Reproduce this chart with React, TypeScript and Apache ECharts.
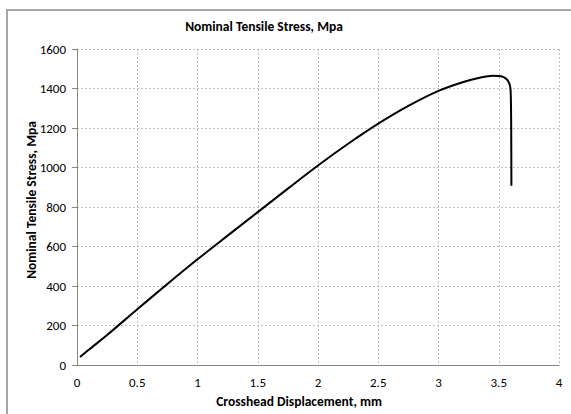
import React, { useEffect, useRef } from "react";
import * as echarts from "echarts";

const displacement = [0.025, 0.1, 0.25, 0.5, 0.75, 1.0, 1.25, 1.5, 1.75, 2.0, 2.25, 2.5, 2.75, 3.0, 3.2, 3.35, 3.45, 3.52, 3.56, 3.585, 3.597, 3.602, 3.604, 3.605];
const stress = [40, 78, 152, 282, 410, 535, 655, 774, 893, 1010, 1120, 1222, 1312, 1388, 1432, 1456, 1465, 1462, 1450, 1430, 1400, 1300, 1100, 908];
const xTicks = [0, 0.5, 1, 1.5, 2, 2.5, 3, 3.5, 4];
const yTicks = [0, 200, 400, 600, 800, 1000, 1200, 1400, 1600];

const titleText = "Nominal Tensile Stress, Mpa";
const xName = "Crosshead Displacement, mm";
const yName = "Nominal Tensile Stress, Mpa";

const FONT = "Carlito, 'Open Sans', 'Liberation Sans', sans-serif";

export default function App() {
  const ref = useRef<HTMLDivElement>(null);
  useEffect(() => {
    if (!ref.current) return;
    const chart = echarts.init(ref.current, null, { renderer: "svg" });
    const data = displacement.map((x, i) => [x, stress[i]]);
    chart.setOption({
      animation: false,
      backgroundColor: "#ffffff",
      title: {
        text: titleText,
        left: 259,
        top: 14,
        textAlign: "center",
        textStyle: { fontFamily: FONT, fontSize: 13.5, fontWeight: "bold", color: "#000" },
      },
      graphic: [
        {
          type: "rect",
          shape: { x: 7, y: 10, width: 620, height: 500 },
          style: { fill: "none", stroke: "#a6a6a6", lineWidth: 2 },
          silent: true,
        },
      ],
      grid: { left: 77, right: 12, top: 49, bottom: 49, containLabel: false },
      xAxis: {
        type: "value",
        min: 0,
        max: 4,
        interval: 0.5,
        name: xName,
        nameLocation: "middle",
        nameGap: 29,
        nameMoveOverlap: false,
        nameTextStyle: { fontFamily: FONT, fontSize: 13.5, fontWeight: "bold", color: "#000", padding: [0, 38, 0, 0] },
        axisLine: { show: true, lineStyle: { color: "#868686", width: 1 } },
        axisTick: { show: false },
        axisLabel: {
          fontFamily: FONT,
          fontSize: 13,
          color: "#000",
          margin: 11,
          formatter: (v: number) => (xTicks.includes(v) ? String(v) : ""),
        },
        splitLine: { show: true, lineStyle: { color: "#c0c0c0", type: [2, 2], width: 1 } },
      },
      yAxis: {
        type: "value",
        min: 0,
        max: 1600,
        interval: 200,
        name: yName,
        nameLocation: "middle",
        nameGap: 39,
        nameMoveOverlap: false,
        nameRotate: 90,
        nameTextStyle: { fontFamily: FONT, fontSize: 13.5, fontWeight: "bold", color: "#000", padding: [0, 0, 0, 14] },
        axisLine: { show: true, lineStyle: { color: "#868686", width: 1 } },
        axisTick: { show: true, inside: false, length: 5, lineStyle: { color: "#868686" } },
        axisLabel: {
          fontFamily: FONT,
          fontSize: 13,
          color: "#000",
          margin: 11,
          formatter: (v: number) => (yTicks.includes(v) ? String(v) : ""),
        },
        splitLine: { show: true, lineStyle: { color: "#c0c0c0", type: [2, 2], width: 1 } },
      },
      series: [
        {
          type: "line",
          data,
          showSymbol: false,
          smooth: 0.3,
          lineStyle: { color: "#000", width: 2 },
        },
      ],
    });
    return () => chart.dispose();
  }, []);
  return (
    <div style={{ position: "fixed", left: 0, top: 0, width: 571, height: 414, background: "#fff" }}>
      <div ref={ref} style={{ width: 571, height: 414 }} />
    </div>
  );
}
